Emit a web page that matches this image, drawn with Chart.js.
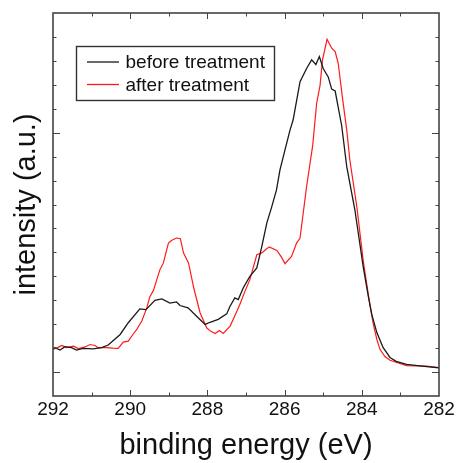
<!DOCTYPE html>
<html>
<head>
<meta charset="utf-8">
<script src="https://cdn.jsdelivr.net/npm/chart.js@4"></script>
<style>
html,body{margin:0;padding:0;background:#fff;}
canvas{display:block;}
</style>
</head>
<body>
<canvas id="c" width="460" height="463"></canvas>
<script>
// ---- data (binding energy in eV, intensity in arbitrary units) ----
const seriesLabels = ['before treatment', 'after treatment'];
const beforeEnergy = [292.00,291.95,291.82,291.69,291.52,291.39,291.22,290.96,290.74,290.57,290.26,290.05,289.75,289.59,289.36,289.18,288.97,288.80,288.71,288.50,288.28,288.06,287.93,287.72,287.50,287.42,287.29,287.20,287.07,286.90,286.72,286.59,286.46,286.33,286.21,286.12,285.99,285.86,285.78,285.60,285.43,285.30,285.19,285.10,285.00,284.87,284.78,284.69,284.52,284.39,284.18,283.96,283.83,283.74,283.61,283.45,283.27,283.11,282.84,282.32,282.00];
const beforeIntensity = [0.99,1.02,0.92,1.06,1.02,0.92,0.99,0.97,1.02,1.13,1.57,2.06,2.64,2.61,3.00,3.06,2.88,2.93,2.78,2.68,2.33,1.99,2.08,2.20,2.43,2.73,3.10,3.03,3.52,4.00,4.35,5.25,6.23,6.92,7.61,8.45,9.28,10.11,10.53,12.13,12.68,13.04,12.85,13.18,12.68,12.33,11.82,11.74,10.28,8.58,6.78,4.36,3.15,2.40,1.65,1.03,0.61,0.45,0.32,0.23,0.18];
const afterEnergy = [292.00,291.95,291.87,291.77,291.65,291.56,291.47,291.34,291.17,291.04,290.91,290.83,290.61,290.45,290.31,290.18,290.05,289.93,289.83,289.70,289.57,289.49,289.40,289.23,289.14,289.01,288.92,288.80,288.70,288.62,288.49,288.35,288.19,288.02,287.91,287.80,287.69,287.59,287.41,287.28,287.16,287.03,286.90,286.72,286.59,286.48,286.40,286.20,286.09,285.99,285.82,285.69,285.60,285.43,285.27,285.17,285.08,285.02,284.90,284.78,284.69,284.61,284.51,284.39,284.31,284.13,283.96,283.87,283.79,283.70,283.61,283.53,283.40,283.27,282.84,282.32,282.00];
const afterIntensity = [0.95,0.98,1.03,1.11,1.02,1.05,1.08,0.98,1.05,1.15,1.11,1.02,1.02,1.00,0.99,1.25,1.29,1.57,1.78,2.13,2.68,3.15,3.40,4.28,4.56,5.39,5.51,5.60,5.57,4.98,4.56,3.49,2.48,1.85,1.70,1.61,1.74,1.61,1.92,2.38,2.82,3.36,3.86,4.90,4.98,5.13,5.23,5.08,4.82,4.53,4.83,5.39,5.60,7.75,9.49,11.23,11.99,13.03,13.90,13.53,13.39,12.89,11.57,10.11,8.86,6.92,4.61,3.65,2.82,1.99,1.36,0.95,0.65,0.49,0.27,0.25,0.18];
const xTickValues = [282,283,284,285,286,287,288,289,290,291,292];
const xMajorTicks = [282,284,286,288,290,292];
const yTickValues = [-1,0,1,2,3,4,5,6,7,8,9,10,11,12,13,14,15];
const yMajorTicks = [0,10];
const xTitle = 'binding energy (eV)';
const yTitle = 'intensity (a.u.)';

const FONT = '"Liberation Sans", Arial, Helvetica, sans-serif';
const FRAME = '#444';

function pairs(xs, ys) { return xs.map((x, i) => ({x: x, y: ys[i]})); }

const framePlugin = {
  id: 'frameTicks',
  afterDatasetsDraw(chart) {
    const ctx = chart.ctx, a = chart.chartArea;
    const xs = chart.scales.x, ys = chart.scales.y;
    ctx.save();
    ctx.strokeStyle = FRAME;
    ctx.lineWidth = 1;
    ctx.beginPath();
    xTickValues.forEach(v => {
      const px = Math.round(xs.getPixelForValue(v)) + 0.5;
      if (px <= a.left + 1 || px >= a.right - 1) return;
      const len = xMajorTicks.includes(v) ? 6 : 3.5;
      ctx.moveTo(px, a.bottom); ctx.lineTo(px, a.bottom - len);
      ctx.moveTo(px, a.top); ctx.lineTo(px, a.top + len);
    });
    yTickValues.forEach(v => {
      const py = Math.round(ys.getPixelForValue(v)) + 0.5;
      if (py <= a.top + 1 || py >= a.bottom - 1) return;
      const len = yMajorTicks.includes(v) ? 7 : 3.5;
      ctx.moveTo(a.left, py); ctx.lineTo(a.left + len, py);
      ctx.moveTo(a.right, py); ctx.lineTo(a.right - len, py);
    });
    ctx.stroke();
    ctx.lineWidth = 1.6;
    ctx.strokeRect(a.left, a.top, a.right - a.left, a.bottom - a.top);

    // legend box
    const bx = 76, by = 46, bw = 198, bh = 54;
    ctx.lineWidth = 1.4;
    ctx.strokeStyle = '#333';
    ctx.strokeRect(bx + 0.5, by + 0.5, bw, bh);
    ctx.font = '19px ' + FONT;
    ctx.textBaseline = 'middle';
    ctx.textAlign = 'left';
    chart.data.datasets.forEach((ds, i) => {
      const ly = by + 16 + i * 22.5;
      ctx.strokeStyle = ds.borderColor;
      ctx.lineWidth = 1.3;
      ctx.beginPath();
      ctx.moveTo(87, ly); ctx.lineTo(119, ly);
      ctx.stroke();
      ctx.fillStyle = '#111';
      ctx.fillText(ds.label, 125.5, ly + 1);
    });
    ctx.restore();
  }
};

new Chart(document.getElementById('c'), {
  type: 'line',
  data: {
    datasets: [
      { label: seriesLabels[0], data: pairs(beforeEnergy, beforeIntensity), borderColor: '#1a1a1a', borderWidth: 1.3, pointRadius: 0, tension: 0, fill: false },
      { label: seriesLabels[1], data: pairs(afterEnergy, afterIntensity), borderColor: '#ff1a1a', borderWidth: 1.2, pointRadius: 0, tension: 0, fill: false }
    ]
  },
  options: {
    responsive: false,
    animation: false,
    devicePixelRatio: 1,
    layout: { padding: { top: 13, right: 21, left: 0, bottom: 0 } },
    plugins: { legend: { display: false }, tooltip: { enabled: false } },
    scales: {
      x: {
        type: 'linear', reverse: true, min: 282, max: 292,
        grid: { display: false, drawTicks: false },
        border: { display: false },
        afterBuildTicks: (s) => { s.ticks = xTickValues.map(v => ({value: v})); },
        ticks: {
          autoSkip: false, maxRotation: 0, padding: 2,
          color: '#111', font: { family: FONT, size: 19 },
          callback: (v) => (xMajorTicks.includes(v) ? String(v) : '')
        },
        title: { display: true, text: xTitle, color: '#111', font: { family: FONT, size: 29 }, padding: { top: 0, bottom: 0 } },
        afterFit: (s) => { s.height = 67; }
      },
      y: {
        type: 'linear', min: -1, max: 15,
        grid: { display: false, drawTicks: false },
        border: { display: false },
        afterBuildTicks: (s) => { s.ticks = yTickValues.map(v => ({value: v})); },
        ticks: { display: false },
        title: { display: true, text: yTitle, color: '#111', font: { family: FONT, size: 29 }, padding: { top: 10, bottom: 0 } },
        afterFit: (s) => { s.width = 53; }
      }
    }
  },
  plugins: [framePlugin]
});
</script>
</body>
</html>
